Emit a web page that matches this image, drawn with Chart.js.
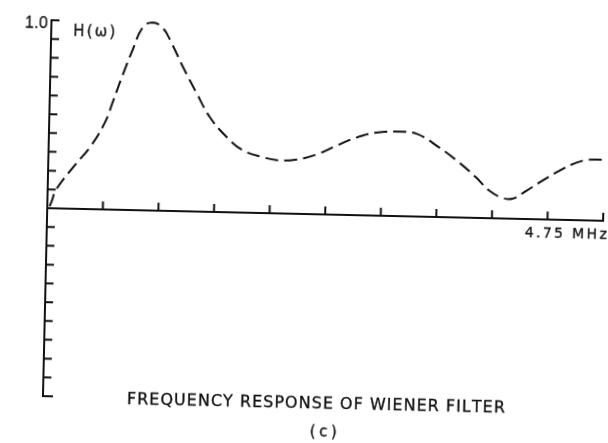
<!DOCTYPE html>
<html>
<head>
<meta charset="utf-8">
<script src="https://cdn.jsdelivr.net/npm/chart.js@4.4.1/dist/chart.umd.min.js"></script>
<style>
  html, body { margin: 0; padding: 0; background: #fff; overflow: hidden; }
  #plot { position: absolute; left: 0; top: 0; transform: rotate(1.3deg); }
</style>
</head>
<body>
<canvas id="plot" width="608" height="443"></canvas>
<script>
// frequency in MHz
let freqMHz = [0.02, 0.04, 0.068, 0.216, 0.355, 0.478, 0.544, 0.618, 0.692, 0.783, 0.865, 0.953,
    1.031, 1.132, 1.254, 1.371, 1.518, 1.66, 1.831, 1.977, 2.122, 2.291, 2.46, 2.628, 2.798,
    2.969, 3.139, 3.338, 3.512, 3.659, 3.773, 3.884, 3.97, 4.088, 4.222, 4.365, 4.508, 4.618, 4.75];
// H(w), normalised
let response = [0.01, 0.043, 0.096, 0.223, 0.331, 0.465, 0.582, 0.716, 0.841, 0.975, 1.0, 0.972,
    0.892, 0.767, 0.629, 0.504, 0.4, 0.331, 0.297, 0.282, 0.289, 0.318, 0.368, 0.413, 0.442,
    0.449, 0.441, 0.369, 0.291, 0.214, 0.146, 0.11, 0.106, 0.15, 0.205, 0.26, 0.305, 0.323, 0.324];

let xTicks = [0, 0.475, 0.95, 1.425, 1.9, 2.375, 2.85, 3.325, 3.8, 4.275, 4.75];
let yTicks = [-1, -0.9, -0.8, -0.7, -0.6, -0.5, -0.4, -0.3, -0.2, -0.1, 0,
    0.1, 0.2, 0.3, 0.4, 0.5, 0.6, 0.7, 0.8, 0.9, 1.0];

let yTopLabel = "1.0";
let yName = "H(\u03c9)";
let xEndLabel = "4.75 MHz";
let title = "FREQUENCY RESPONSE OF WIENER FILTER";
let subTitle = "(c)";

let ink = "#111";
let face = "'DejaVu Sans'";

// spread characters so the text fills a given width, like the stencil lettering
function spacedText(ctx, text, cx, baseline, width) {
    let chars = Array.from(text);
    let widths = chars.map(ch => ctx.measureText(ch).width);
    let total = widths.reduce((a, b) => a + b, 0);
    let gap = chars.length > 1 ? (width - total) / (chars.length - 1) : 0;
    let x = cx - width / 2;
    ctx.textAlign = "left";
    ctx.lineWidth = 0.3;
    chars.forEach((ch, i) => {
        ctx.fillText(ch, x, baseline);
        ctx.strokeText(ch, x, baseline);
        x += widths[i] + gap;
    });
}

let axesPlugin = {
    id: "handAxes",
    beforeDatasetsDraw(chart) {
        let ctx = chart.ctx;
        let xs = chart.scales.x;
        let ys = chart.scales.y;
        let x0 = xs.getPixelForValue(0);
        let y0 = ys.getPixelForValue(0);

        ctx.save();
        ctx.strokeStyle = ink;
        ctx.lineWidth = 2;
        ctx.lineCap = "square";

        // vertical axis with ticks pointing right
        ctx.beginPath();
        ctx.moveTo(x0, ys.getPixelForValue(1));
        ctx.lineTo(x0, ys.getPixelForValue(-1));
        yTicks.forEach(v => {
            if (v === 0) return;
            let y = ys.getPixelForValue(v);
            ctx.moveTo(x0, y);
            ctx.lineTo(x0 + (v === -1 ? 9 : 7), y);
        });
        ctx.stroke();

        // horizontal axis with ticks pointing up
        ctx.beginPath();
        ctx.moveTo(x0, y0);
        ctx.lineTo(xs.getPixelForValue(4.75), y0);
        xTicks.forEach(v => {
            if (v === 0) return;
            let x = xs.getPixelForValue(v);
            ctx.moveTo(x, y0);
            ctx.lineTo(x, y0 - 7);
        });
        ctx.stroke();

        // labels
        ctx.fillStyle = ink;
        let top = ys.getPixelForValue(1);
        let area = chart.chartArea;
        let mid = (area.left + area.right) / 2;

        ctx.font = "16px 'Liberation Sans'";
        spacedText(ctx, yTopLabel, x0 - 15, top + 7.5, 23);

        ctx.font = "15px " + face;
        spacedText(ctx, yName, x0 + 43, top + 15, 42);

        ctx.font = "14px " + face;
        spacedText(ctx, xEndLabel, xs.getPixelForValue(4.75) - 37, y0 + 18, 82);

        ctx.font = "16px " + face;
        spacedText(ctx, title, mid - 5, area.bottom + 6, 378);

        ctx.font = "15px " + face;
        spacedText(ctx, subTitle, mid + 3, area.bottom + 34, 27);

        ctx.restore();
    }
};

let points = freqMHz.map((f, i) => ({ x: f, y: response[i] }));

let chart = new Chart(document.getElementById("plot"), {
    type: "line",
    data: {
        datasets: [{
            label: "H(w)",
            data: points,
            borderColor: ink,
            borderWidth: 2,
            borderDash: [13, 6],
            pointRadius: 0,
            tension: 0.4,
            clip: false,
            fill: false
        }]
    },
    options: {
        responsive: false,
        animation: false,
        devicePixelRatio: 1,
        layout: {
            padding: { left: 47, right: 5, top: 26, bottom: 41 }
        },
        plugins: {
            legend: { display: false },
            title: { display: false },
            tooltip: { enabled: false }
        },
        scales: {
            x: { type: "linear", min: 0, max: 4.75, display: false },
            y: { type: "linear", min: -1, max: 1, display: false }
        }
    },
    plugins: [axesPlugin]
});
</script>
</body>
</html>
